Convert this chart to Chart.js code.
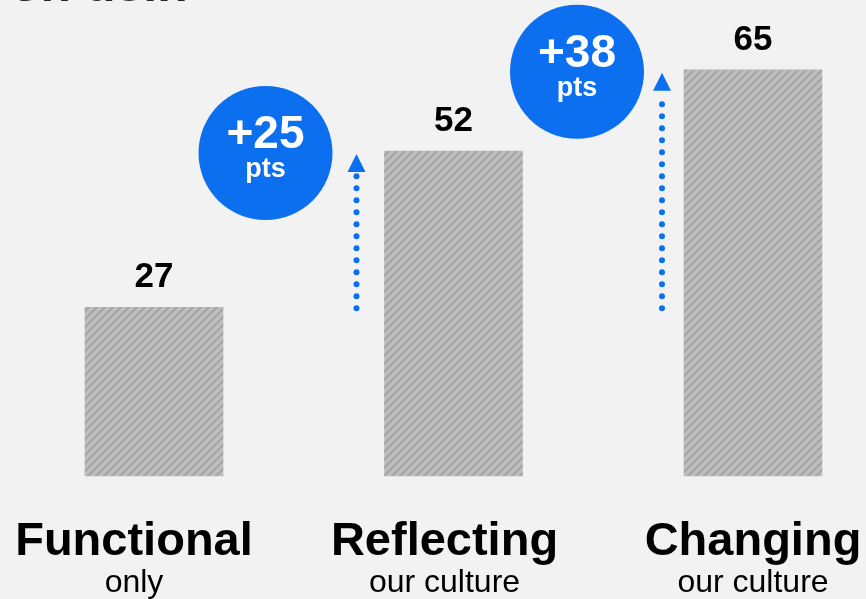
<!DOCTYPE html>
<html>
<head>
<meta charset="utf-8">
<title>Culture chart</title>
<script src="https://cdn.jsdelivr.net/npm/chart.js@4/dist/chart.umd.min.js"></script>
<style>
  body { margin: 0; background: #f2f2f2; font-family: 'Liberation Sans', Arial, sans-serif; }
  #wrap { position: relative; width: 866px; height: 599px; overflow: hidden; }
  #title-bit { position: absolute; left: 10px; top: -44px; font-size: 50px; font-weight: bold; color: #262626; line-height: 56px; }
  canvas { position: absolute; left: 0; top: 0; }
</style>
</head>
<body>
<div id="wrap">
  <div id="title-bit">on usin</div>
  <canvas id="my-chart" width="866" height="599"></canvas>
</div>
<script>
'use strict';

// ******* DATA ********
let categories = ['Functional', 'Reflecting', 'Changing'];
let subLabels = ['only', 'our culture', 'our culture'];
let scores = [27, 52, 65];
let gainLabels = ['', '+25', '+38'];
let gainUnit = 'pts';

// ******* CANVAS ********
let ctx = document.getElementById('my-chart');
const FONT = '\'Liberation Sans\', Arial, sans-serif';

// grey diagonal stripes for the bars
function makeStripes(){
  let tile = document.createElement('canvas');
  tile.width = 8;
  tile.height = 8;
  let t = tile.getContext('2d');
  t.fillStyle = '#a8a8a8';
  t.fillRect(0, 0, 8, 8);
  t.strokeStyle = '#c0c0c0';
  t.lineWidth = 3;
  t.beginPath();
  t.moveTo(-2, 10); t.lineTo(10, -2);
  t.moveTo(-6, 6); t.lineTo(6, -6);
  t.moveTo(2, 14); t.lineTo(14, 2);
  t.stroke();
  return ctx.getContext('2d').createPattern(tile, 'repeat');
}

// ******* PLUGIN: values, labels, arrows, bubbles ********
let annotations = {
  id: 'annotations',
  afterDatasetsDraw(chart){
    let c = chart.ctx;
    let x = chart.scales.x;
    let y = chart.scales.y;
    let meta = chart.getDatasetMeta(0);
    let labelShift = [-20, -9, 0];
    c.save();
    c.textAlign = 'center';

    for (let i = 0; i < categories.length; i++) {
      let bar = meta.data[i];
      // value over bar
      c.fillStyle = '#000000';
      c.font = 'bold 35px ' + FONT;
      c.textBaseline = 'alphabetic';
      c.fillText(String(scores[i]), bar.x, bar.y - 20);
      // category labels
      let cx = x.getPixelForValue(i) + labelShift[i];
      c.font = 'bold 47px ' + FONT;
      c.fillText(categories[i], cx, 555);
      c.font = '32px ' + FONT;
      c.fillText(subLabels[i], cx, 592);
    }

    // dotted arrows from the first score up to each later score
    let arrowGap = [0, 97, 91];
    let bubbleGap = [0, 91, 85];
    let blue = '#0b6ff0';
    for (let i = 1; i < categories.length; i++) {
      let ax = x.getPixelForValue(i) - arrowGap[i];
      let yFrom = y.getPixelForValue(scores[0]) + 1;
      let yTo = y.getPixelForValue(scores[i]);
      let apex = yTo + 3;
      let base = yTo + 21;
      c.fillStyle = blue;
      for (let dy = yFrom; dy > base + 4; dy -= 12) {
        c.beginPath();
        c.arc(ax, dy, 3, 0, Math.PI * 2);
        c.fill();
      }
      c.beginPath();
      c.moveTo(ax, apex);
      c.lineTo(ax + 9, base);
      c.lineTo(ax - 9, base);
      c.closePath();
      c.fill();

      // bubble with the gain
      let bx = ax - bubbleGap[i];
      let by = yTo + 2;
      c.beginPath();
      c.arc(bx, by, 67, 0, Math.PI * 2);
      c.fill();
      c.fillStyle = '#ffffff';
      c.font = 'bold 46px ' + FONT;
      c.fillText(gainLabels[i], bx, by - 5);
      c.font = 'bold 27px ' + FONT;
      c.fillText(gainUnit, bx, by + 24);
    }
    c.restore();
  }
};

// ******* CHART ********
let chartObj = {
  type: 'bar',
  data: {
    labels: categories,
    datasets: [{
      data: scores,
      backgroundColor: makeStripes(),
      borderWidth: 0,
      barThickness: 138,
      clip: false
    }]
  },
  options: {
    responsive: false,
    animation: false,
    layout: {
      padding: { left: 154, right: 113, top: 38.5, bottom: 123 }
    },
    scales: {
      x: { display: false, offset: false, grid: { display: false } },
      y: { display: false, min: 0, max: 70 }
    },
    plugins: {
      legend: { display: false },
      tooltip: { enabled: false }
    }
  },
  plugins: [annotations]
};

new Chart(ctx, chartObj); //eslint-disable-line
</script>
</body>
</html>
